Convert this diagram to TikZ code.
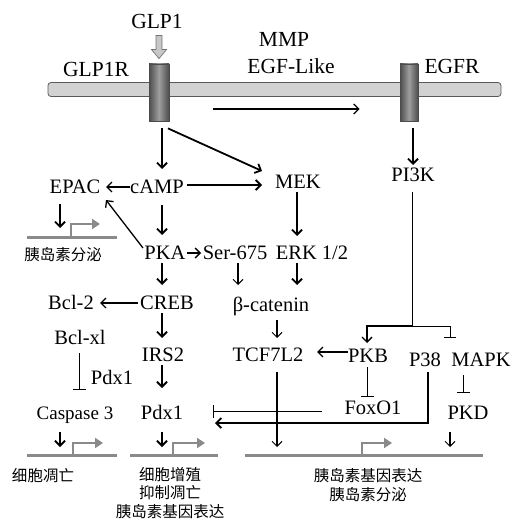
\documentclass[tikz,border=0pt]{standalone}
\usepackage{fontspec}
\setmainfont{Liberation Serif}
\newfontfamily\cjk{Noto Sans CJK SC}
\usetikzlibrary{arrows.meta,calc}
\definecolor{genegray}{HTML}{8A8A8A}
\definecolor{membr}{HTML}{D2D2D2}
\begin{document}
\begin{tikzpicture}[x=1pt,y=-1pt,
  lbl/.style={font=\fontsize{20.5}{23}\selectfont, text height=13.5pt, text depth=0pt, inner sep=0pt},
  top/.style={font=\fontsize{21.5}{24}\selectfont, text height=14pt, text depth=0pt, inner sep=0pt},
  sm/.style={font=\fontsize{19}{21}\selectfont, text height=12.5pt, text depth=0pt, inner sep=0pt},
  cn/.style={font=\cjk\fontsize{15.5}{18}\selectfont, inner sep=0pt},
  thk/.style={line width=1.8pt, -{Straight Barb[length=5pt,width=10pt]}},
  med/.style={line width=1.3pt, -{Straight Barb[length=5pt,width=10pt]}},
  thn/.style={line width=1.05pt, -{Straight Barb[length=5pt,width=10pt]}},
  inh/.style={line width=1pt, -{Bar[width=13pt,line width=1pt]}},
  gene/.style={genegray, line width=3pt},
  prom/.style={genegray, line width=2.6pt, -{Triangle[length=8pt,width=10pt]}},
  receptor/.style={draw=black!70, line width=0.8pt, left color=black!70, right color=black!70, middle color=black!38, inner sep=0pt}
]
\useasboundingbox (0,0) rectangle (514,521);

% membrane and receptors
\node[draw=black!65, fill=membr, line width=0.8pt, rounded corners=3pt, minimum width=453pt, minimum height=14pt, inner sep=0pt] (mem) at (274.5,89.5) {};
\node[receptor, minimum width=20pt, minimum height=57pt] (r1) at (159,92.5) {};
\node[receptor, minimum width=18pt, minimum height=57pt] (r2) at (409,92.5) {};

% labels
\node[top] (glp1) at (157,22) {GLP1};
\node[top] (glp1r) at (96,70) {GLP1R};
\node[top] (mmp) at (284,40) {MMP};
\node[top] (egfl) at (291,67) {EGF-Like};
\node[top] (egfr) at (452,67) {EGFR};

\node[lbl] (epac) at (75,187) {EPAC};
\node[lbl] (camp) at (157,187) {cAMP};
\node[lbl] (mek) at (298,182) {MEK};
\node[lbl] (pi3k) at (413,175) {PI3K};

\node[lbl] (pka) at (165,253) {PKA};
\node[lbl] (ser) at (235,253) {Ser-675};
\node[lbl] (erk) at (312,253) {ERK 1/2};

\node[lbl] (bcl2) at (71,303) {Bcl-2};
\node[lbl] (creb) at (167,303) {CREB};
\node[lbl] (bcat) at (271,305) {β-catenin};

\node[lbl] (bclxl) at (80,338) {Bcl-xl};
\node[lbl] (irs2) at (163,355) {IRS2};
\node[lbl] (tcf) at (268,355) {TCF7L2};
\node[lbl] (pkb) at (368,356) {PKB};
\node[lbl] (p38) at (425,360) {P38};
\node[lbl] (mapk) at (481,360) {MAPK};

\node[lbl] (pdxl) at (112,378) {Pdx1};

\node[sm] (casp) at (75,413) {Caspase 3};
\node[lbl] (pdx) at (162,413) {Pdx1};
\node[lbl] (foxo) at (373,408) {FoxO1};
\node[lbl] (pkd) at (468,413) {PKD};

\node[cn] (g1lab) at (63,255) {胰岛素分泌};
\node[cn] (c1) at (43,476) {细胞凋亡};
\node[cn] (c2a) at (170,475) {细胞增殖};
\node[cn] (c2b) at (170,493) {抑制凋亡};
\node[cn] (c2c) at (170,512) {胰岛素基因表达};
\node[cn] (c3a) at (368,476) {胰岛素基因表达};
\node[cn] (c3b) at (368,495) {胰岛素分泌};

% GLP1 hollow arrow
\draw[draw=black!55, fill=black!22, line width=0.7pt]
  ($(r1.north)+(-3,-28)$) -- ($(r1.north)+(3,-28)$) -- ($(r1.north)+(3,-14)$)
  -- ($(r1.north)+(7.5,-14)$) -- ($(r1.north)+(0,-5)$) -- ($(r1.north)+(-7.5,-14)$)
  -- ($(r1.north)+(-3,-14)$) -- cycle;

% membrane arrow
\draw[med] ($(r1.east)+(44,16.5)$) -- ($(r2.west)+(-40,16.5)$);

% upper pathway
\draw[thk] ($(r1.south)+(3,7)$) -- ($(camp)+(5,-18)$);
\draw[thk] ($(r1.south)+(9,7)$) -- ($(mek)+(-36,-11)$);
\draw[thk] ($(camp)+(30,-2)$) -- ($(mek)+(-36,3)$);
\draw[med] ($(camp)+(-27,0)$) -- ($(epac)+(31,0)$);
\draw[thk] ($(r2.south)+(4,7)$) -- ($(pi3k)+(0,-10)$);
\draw[thk] ($(epac)+(-15,17)$) -- ($(epac)+(-15,41)$);
\draw[thk] ($(camp)+(5,18)$) -- ($(pka)+(-3,-18)$);
\draw[med] ($(pka)+(-22,-5)$) -- ($(epac)+(31,13)$);
\draw[med] ($(pka)+(22,0)$) -- ($(ser)+(-34,0)$);
\draw[thk] ($(mek)+(-1,10)$) -- ($(erk)+(-15,-17)$);

% middle
\draw[thk] ($(pka)+(-3,10)$) -- ($(creb)+(-5,-18)$);
\draw[thn] ($(ser)+(3,10)$) -- ($(bcat)+(-33,-20)$);
\draw[thk] ($(erk)+(-15,10)$) -- ($(bcat)+(26,-20)$);
\draw[med] ($(creb)+(-29,0)$) -- ($(bcl2)+(29,0)$);
\draw[thk] ($(creb)+(-5,10)$) -- ($(irs2)+(-1,-17)$);
\draw[thn] ($(bcat)+(6,15)$) -- ($(tcf)+(9,-17)$);
\draw[inh] ($(bclxl)+(-1,15)$) -- ($(casp)+(4,-23)$);
\draw[thk] ($(irs2)+(-1,10)$) -- ($(pdx)+(0,-25)$);

% PI3K branch
\draw[line width=1pt] ($(pi3k)+(-1,17)$) -- ($(pi3k)+(-1,151)$);
\draw[line width=1.4pt, -{Straight Barb[length=5pt,width=10pt]}] ($(pi3k)+(-1,151)$) -| ($(pkb)+(-1,-13)$);
\draw[line width=1pt, -{Bar[width=12pt,line width=1pt]}] ($(pi3k)+(-1,151)$) -| ($(mapk)+(-31,-22)$);
\draw[med] ($(pkb)+(-20,-4)$) -- ($(tcf)+(49,-3)$);
\draw[inh] ($(pkb)+(-1,11)$) -- ($(foxo)+(-6,-11)$);
\draw[inh] ($(mapk)+(-18,15)$) -- ($(pkd)+(-5,-20)$);

% lower
\draw[line width=1.8pt, -{Straight Barb[length=5pt,width=10pt]}] ($(p38)+(3,12)$) |- ($(pdx)+(53,10)$);
\draw[inh] ($(foxo)+(-51,3)$) -- ($(pdx)+(51,-2)$);
\draw[thn] ($(tcf)+(9,17)$) -- ($(tcf)+(9,92)$);
\draw[thk] ($(casp)+(-15,19)$) -- ($(casp)+(-15,34)$);
\draw[thk] ($(pdx)+(0,19)$) -- ($(pdx)+(0,34)$);
\draw[thn] ($(pkd)+(-18,19)$) -- ($(pkd)+(-18,34)$);

% genes
\draw[gene] (27,237) -- (117,237);
\draw[prom] (71,237) |- (100,224);
\draw[gene] (27,455) -- (117,455);
\draw[prom] (73,455) |- (103,443);
\draw[gene] (130,455) -- (218,455);
\draw[prom] (173,455) |- (205,443);
\draw[gene] (245,455) -- (483,455);
\draw[prom] (362,455) |- (392,443);
\end{tikzpicture}
\end{document}
